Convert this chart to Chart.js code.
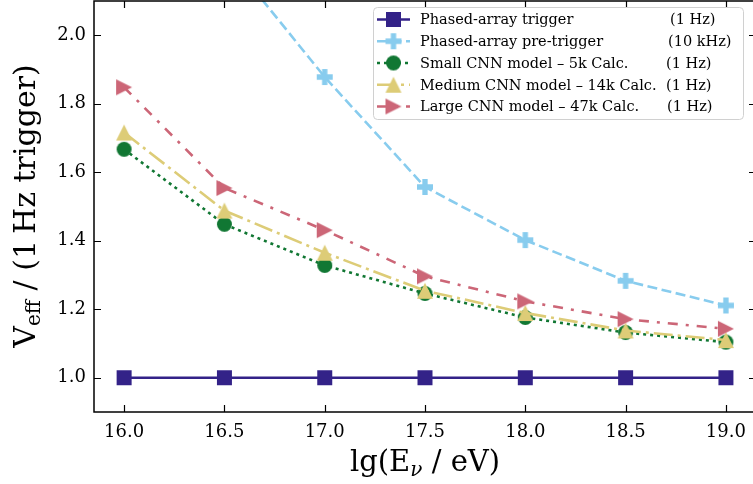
<!DOCTYPE html>
<html>
<head>
<meta charset="utf-8">
<script src="https://cdn.jsdelivr.net/npm/chart.js@4.4.1/dist/chart.umd.min.js"></script>
<style>
  html, body { margin: 0; padding: 0; background: #ffffff; overflow: hidden; }
  #wrap { width: 756px; height: 484px; position: relative; }
</style>
</head>
<body>
<div id="wrap"><canvas id="veffChart"></canvas></div>
<script>
// lg(E_nu / eV)
const energies = [16.0, 16.5, 17.0, 17.5, 18.0, 18.5, 19.0];

// Veff relative to the 1 Hz phased-array trigger
const paTrigger = [1.0, 1.0, 1.0, 1.0, 1.0, 1.0, 1.0];
const paPreTrigger = [2.75, 2.24, 1.878, 1.557, 1.402, 1.283, 1.211];
const cnnSmall = [1.667, 1.448, 1.328, 1.246, 1.176, 1.132, 1.104];
const cnnMedium = [1.716, 1.488, 1.365, 1.254, 1.189, 1.138, 1.110];
const cnnLarge = [1.848, 1.554, 1.431, 1.296, 1.223, 1.171, 1.143];

const xTicks = [16.0, 16.5, 17.0, 17.5, 18.0, 18.5, 19.0];
const yTicks = [1.0, 1.2, 1.4, 1.6, 1.8, 2.0];

const seriesNames = [
  "Phased-array trigger",
  "Phased-array pre-trigger",
  "Small CNN model \u2013 5k Calc.",
  "Medium CNN model \u2013 14k Calc.",
  "Large CNN model \u2013 47k Calc."
];
const seriesRates = ["(1 Hz)", "(10 kHz)", "(1 Hz)", "(1 Hz)", "(1 Hz)"];
const rateX = [670, 668, 666, 666, 667];

const SERIF = "'DejaVu Serif', 'Liberation Serif', serif";

// matplotlib-like filled markers as small canvases
function makeMarker(shape, color, size) {
  const c = document.createElement("canvas");
  c.width = size + 2;
  c.height = size + 2;
  const g = c.getContext("2d");
  const m = (size + 2) / 2;
  const h = size / 2;
  g.fillStyle = color;
  g.beginPath();
  if (shape === "square") {
    g.rect(m - h, m - h, size, size);
  } else if (shape === "circle") {
    g.arc(m, m, h, 0, Math.PI * 2);
  } else if (shape === "up") {
    g.moveTo(m, m - h);
    g.lineTo(m + h, m + h);
    g.lineTo(m - h, m + h);
    g.closePath();
  } else if (shape === "right") {
    g.moveTo(m + h, m);
    g.lineTo(m - h, m + h);
    g.lineTo(m - h, m - h);
    g.closePath();
  } else if (shape === "plus") {
    const t = size / 6;
    const pts = [[-1, -3], [1, -3], [1, -1], [3, -1], [3, 1], [1, 1], [1, 3], [-1, 3], [-1, 1], [-3, 1], [-3, -1], [-1, -1]];
    pts.forEach((p, i) => {
      const px = m + p[0] * t, py = m + p[1] * t;
      if (i === 0) g.moveTo(px, py); else g.lineTo(px, py);
    });
    g.closePath();
  }
  g.fill();
  return c;
}

function series(idx, values, color, dash, marker, size, order) {
  return {
    label: seriesNames[idx],
    data: energies.map((x, i) => ({ x: x, y: values[i] })),
    borderColor: color,
    backgroundColor: color,
    borderWidth: 2.6,
    borderDash: dash,
    pointStyle: makeMarker(marker, color, size),
    pointRadius: 8,
    pointHoverRadius: 8,
    tension: 0,
    order: order
  };
}

const datasets = [
  series(0, paTrigger, "#332288", [], "square", 15, 5),
  series(1, paPreTrigger, "#88CCEE", [10, 4.5], "plus", 16, 4),
  series(2, cnnSmall, "#117733", [3, 4], "circle", 15, 3),
  series(3, cnnMedium, "#DDCC77", [19, 5, 3, 5], "up", 16, 2),
  series(4, cnnLarge, "#CC6677", [10, 8, 3, 8], "right", 16, 1)
];

const framePlugin = {
  id: "frame",
  afterDraw(chart) {
    const ctx = chart.ctx;
    const a = chart.chartArea;
    const xs = chart.scales.x, ys = chart.scales.y;
    ctx.save();
    // spines
    ctx.strokeStyle = "#000000";
    ctx.lineWidth = 1.5;
    ctx.strokeRect(a.left, a.top, a.right - a.left, a.bottom - a.top);
    // inward ticks + tick labels
    ctx.lineWidth = 1.2;
    ctx.beginPath();
    xTicks.forEach((v) => {
      const px = Math.round(xs.getPixelForValue(v)) + 0.5;
      ctx.moveTo(px, a.bottom); ctx.lineTo(px, a.bottom - 7);
      ctx.moveTo(px, a.top); ctx.lineTo(px, a.top + 7);
    });
    yTicks.forEach((v) => {
      const py = Math.round(ys.getPixelForValue(v)) + 0.5;
      ctx.moveTo(a.left, py); ctx.lineTo(a.left + 7, py);
      ctx.moveTo(a.right, py); ctx.lineTo(a.right - 7, py);
    });
    ctx.stroke();

    ctx.fillStyle = "#000000";
    ctx.font = "18px " + SERIF;
    ctx.textBaseline = "middle";
    ctx.textAlign = "center";
    xTicks.forEach((v) => {
      ctx.fillText(v.toFixed(1), xs.getPixelForValue(v), a.bottom + 20);
    });
    ctx.textAlign = "right";
    yTicks.forEach((v) => {
      ctx.fillText(v.toFixed(1), a.left - 8, ys.getPixelForValue(v));
    });
    ctx.textAlign = "left";

    // x title: lg(E_nu / eV)
    ctx.textBaseline = "alphabetic";
    const big = "29px " + SERIF, sub = "italic 20px " + SERIF;
    const partsX = [["lg(E", big, 0], ["\u03BD", sub, 5], [" / eV)", big, 0]];
    let w = 0;
    partsX.forEach((p) => { ctx.font = p[1]; w += ctx.measureText(p[0]).width; });
    let x0 = (a.left + a.right) / 2 - w / 2;
    const base = 471;
    partsX.forEach((p) => {
      ctx.font = p[1];
      ctx.fillText(p[0], x0, base + p[2]);
      x0 += ctx.measureText(p[0]).width;
    });

    // y title: V_eff / (1 Hz trigger)
    const bigY = "30px " + SERIF, subY = "20px " + SERIF;
    const partsY = [["V", bigY, 0], ["eff", subY, 5], [" / (1\u2009Hz trigger)", bigY, 0]];
    w = 0;
    partsY.forEach((p) => { ctx.font = p[1]; w += ctx.measureText(p[0]).width; });
    ctx.translate(35, 206);
    ctx.rotate(-Math.PI / 2);
    let y0 = -w / 2;
    partsY.forEach((p) => {
      ctx.font = p[1];
      ctx.fillText(p[0], y0, p[2]);
      y0 += ctx.measureText(p[0]).width;
    });
    ctx.setTransform(1, 0, 0, 1, 0, 0);

    // legend box
    const bx = 373, by = 7, bw = 370, bh = 112;
    ctx.beginPath();
    ctx.roundRect(bx + 0.5, by + 0.5, bw, bh, 4);
    ctx.fillStyle = "rgba(255,255,255,0.85)";
    ctx.fill();
    ctx.strokeStyle = "#d0d0d0";
    ctx.lineWidth = 1;
    ctx.stroke();

    ctx.font = "14.5px " + SERIF;
    ctx.textBaseline = "middle";
    chart.data.datasets.forEach((ds, i) => {
      const ry = 19.5 + i * 21.75;
      ctx.save();
      ctx.strokeStyle = ds.borderColor;
      ctx.lineWidth = ds.borderWidth;
      ctx.setLineDash(ds.borderDash);
      ctx.beginPath();
      ctx.moveTo(377, ry);
      ctx.lineTo(410, ry);
      ctx.stroke();
      ctx.restore();
      const img = ds.pointStyle;
      ctx.drawImage(img, 393.5 - img.width / 2, ry - img.height / 2);
      ctx.fillStyle = "#000000";
      ctx.fillText(seriesNames[i], 420, ry + 1);
      ctx.fillText(seriesRates[i], rateX[i], ry + 1);
    });
    ctx.restore();
  }
};

new Chart(document.getElementById("veffChart"), {
  type: "line",
  data: { datasets },
  options: {
    responsive: true,
    maintainAspectRatio: false,
    animation: false,
    events: [],
    layout: { autoPadding: false, padding: { top: 1, right: 0, left: 0, bottom: 0 } },
    plugins: {
      legend: { display: false },
      tooltip: { enabled: false }
    },
    scales: {
      x: {
        type: "linear",
        min: 15.85,
        max: 19.15,
        afterBuildTicks: (s) => { s.ticks = xTicks.map((v) => ({ value: v })); },
        afterFit: (s) => { s.height = 72; },
        grid: { display: false, drawTicks: false },
        border: { display: false },
        ticks: { display: false }
      },
      y: {
        type: "linear",
        min: 0.9,
        max: 2.1,
        afterBuildTicks: (s) => { s.ticks = yTicks.map((v) => ({ value: v })); },
        afterFit: (s) => { s.width = 94; },
        grid: { display: false, drawTicks: false },
        border: { display: false },
        ticks: { display: false }
      }
    }
  },
  plugins: [framePlugin]
});
</script>
</body>
</html>
